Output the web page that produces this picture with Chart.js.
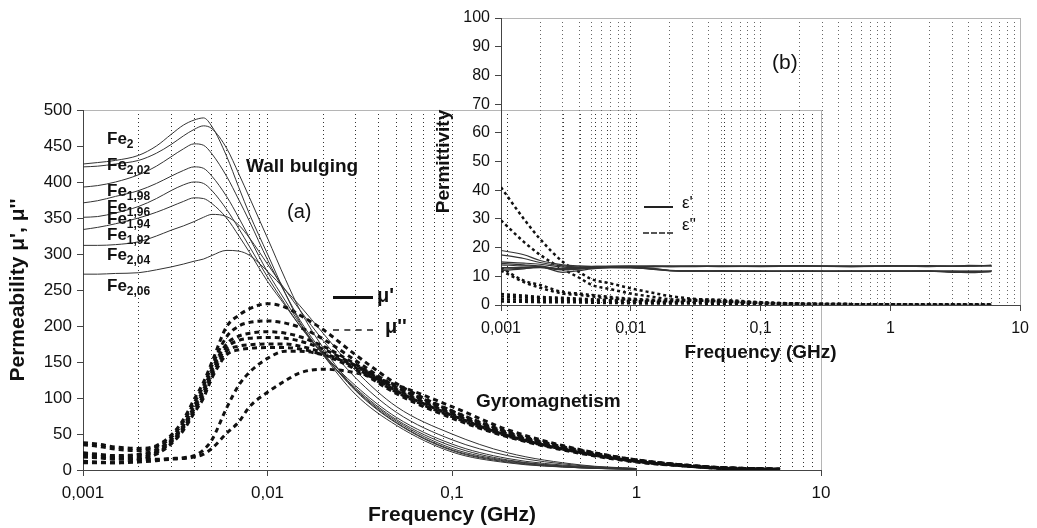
<!DOCTYPE html>
<html lang="en">
<head>
<meta charset="UTF-8">
<title>Permeability and permittivity spectra</title>
<script src="https://cdn.jsdelivr.net/npm/chart.js"></script>
<style>
  html, body { margin: 0; padding: 0; background: #fff; }
  #wrap { position: relative; width: 1037px; height: 528px; overflow: hidden;
          font-family: "Liberation Sans", Arial, sans-serif; color: #111; }
  #wrap canvas { position: absolute; left: 0; top: 0; }
  .note { position: absolute; line-height: 1; white-space: nowrap; }
  .bold { font-weight: bold; }
  .fe { font-weight: bold; font-size: 17px; }
  .fe sub { font-size: 12px; vertical-align: -4px; line-height: 1; }
  .key { position: absolute; height: 0; }
</style>
</head>
<body>
<div id="wrap">
  <canvas id="muChart" width="1037" height="528"></canvas>
  <canvas id="epsChart" width="1037" height="528"></canvas>

  <div class="note bold" style="left:246px;top:156px;font-size:19px">Wall bulging</div>
  <div class="note" style="left:287px;top:201px;font-size:20px">(a)</div>
  <div class="note bold" style="left:476px;top:391px;font-size:19px">Gyromagnetism</div>
  <div class="note" style="left:772px;top:51px;font-size:21px">(b)</div>

  <!-- legend of panel (a) -->
  <div class="key" style="left:333px;top:296px;width:40px;border-top:3px solid #111"></div>
  <div class="note bold" style="left:377px;top:285px;font-size:20px">μ'</div>
  <div class="key" style="left:333px;top:329px;width:40px;border-top:2px dashed #555"></div>
  <div class="note bold" style="left:385px;top:316px;font-size:20px">μ''</div>

  <!-- legend of panel (b) -->
  <div class="key" style="left:644px;top:206px;width:29px;border-top:2px solid #222"></div>
  <div class="note" style="left:682px;top:194px;font-size:17px">ε'</div>
  <div class="key" style="left:643px;top:232px;width:30px;border-top:2px dashed #555"></div>
  <div class="note" style="left:682px;top:216px;font-size:17px">ε''</div>
</div>

<script>
// ---- axis ticks ----
const decadeTicks = [0.001, 0.01, 0.1, 1, 10];
const decadeLabels = ['0,001', '0,01', '0,1', '1', '10'];

// ---- panel (a): permeability, GHz ----
const compositions = ['2', '2,02', '1,98', '1,96', '1,94', '1,92', '2,04', '2,06'];
const freqA = [0.001, 0.0012, 0.0015, 0.002, 0.0025, 0.003, 0.0035, 0.004, 0.0045, 0.005,
               0.006, 0.007, 0.008, 0.01, 0.0125, 0.015, 0.02, 0.03, 0.05, 0.1,
               0.2, 0.5, 1, 2, 3, 6];
// mu' (real part), one row per composition
const muPrime = [
  [425, 427, 430, 437, 450, 466, 479, 486, 489, 477, 436, 392, 355, 300, 245, 205, 160, 105, 62, 25, 10, 3, 1, null, null, null],
  [421, 422, 425, 430, 440, 452, 464, 473, 478, 474, 447, 411, 378, 322, 265, 222, 170, 112, 66, 28, 12, 3, 1, null, null, null],
  [393, 395, 400, 410, 422, 435, 446, 453, 451, 439, 408, 375, 345, 292, 245, 208, 163, 110, 65, 27, 11, 3, 1, null, null, null],
  [371, 374, 380, 388, 398, 408, 416, 421, 419, 408, 380, 350, 322, 275, 235, 203, 160, 112, 68, 30, 13, 4, 1, null, null, null],
  [351, 352, 357, 366, 377, 388, 396, 400, 398, 388, 362, 335, 310, 268, 230, 200, 160, 114, 70, 33, 14, 4, 1, null, null, null],
  [334, 337, 342, 350, 358, 366, 373, 378, 377, 370, 350, 325, 302, 262, 228, 200, 162, 117, 73, 36, 16, 5, 2, null, null, null],
  [312, 312, 313, 317, 325, 333, 339, 345, 351, 355, 352, 340, 322, 286, 250, 222, 180, 128, 80, 42, 20, 6, 2, null, null, null],
  [272, 272, 273, 274, 278, 282, 286, 290, 293, 298, 305, 304, 298, 276, 250, 228, 190, 138, 88, 50, 24, 7, 2, null, null, null]
];
// mu'' (imaginary part)
const muSecond = [
  [38, 36, 32, 30, 34, 48, 70, 98, 122, 150, 199, 215, 224, 231, 226, 215, 195, 160, 120, 82, 52, 27, 14, 6, 3, 1],
  [35, 33, 29, 27, 32, 45, 67, 93, 117, 145, 185, 200, 205, 207, 204, 198, 182, 152, 115, 80, 50, 26, 13, 6, 3, 1],
  [24, 22, 20, 22, 28, 42, 62, 88, 112, 140, 175, 186, 190, 192, 190, 185, 172, 147, 112, 78, 50, 25, 12, 5, 3, 1],
  [22, 20, 18, 20, 26, 40, 60, 85, 108, 136, 170, 180, 183, 184, 183, 179, 168, 145, 110, 76, 48, 24, 12, 5, 2, 1],
  [18, 17, 15, 17, 24, 38, 58, 82, 104, 132, 165, 172, 174, 175, 175, 172, 163, 142, 108, 74, 47, 24, 12, 5, 2, 1],
  [12, 11, 10, 14, 22, 36, 55, 79, 100, 128, 160, 167, 169, 170, 170, 168, 160, 140, 106, 72, 46, 23, 11, 5, 2, 1],
  [20, 18, 16, 15, 15, 16, 17, 20, 28, 42, 86, 118, 136, 155, 165, 165, 160, 145, 115, 82, 53, 27, 13, 5, 3, 1],
  [10, 10, 10, 11, 13, 15, 16, 18, 22, 30, 51, 67, 88, 108, 124, 135, 140, 135, 118, 88, 56, 28, 14, 6, 3, 1]
];

// ---- panel (b): permittivity ----
const freqB = [0.001, 0.0015, 0.002, 0.003, 0.004, 0.005, 0.007, 0.01, 0.015, 0.02,
               0.03, 0.05, 0.1, 0.2, 0.5, 1, 2, 3, 4, 6];
const epsPrime = [
  [19, 17.5, 15.5, 14, 13.6, 13.5, 13.5, 13.6, 13.5, 13.6, 13.5, 13.6, 13.5, 13.7, 13.5, 13.7, 13.4, 13.6, 13.5, 13.9],
  [17.5, 16.2, 14.8, 13.6, 13.3, 13.4, 13.5, 13.5, 13.6, 13.5, 13.6, 13.5, 13.6, 13.5, 13.6, 13.5, 13.7, 13.5, 13.8, 13.7],
  [15, 14.6, 14.2, 13.2, 13, 13.2, 13.5, 13.4, 13.3, 13.4, 13.4, 13.5, 13.4, 13.5, 13.4, 13.6, 13.5, 13.5, 13.6, 13.6],
  [14.5, 14, 13.6, 12.4, 12.6, 12.9, 13.1, 13, 12.5, 12.1, 11.9, 11.9, 11.8, 11.9, 11.8, 11.8, 11.8, 11.5, 11.3, 11.6],
  [14, 13.6, 13.4, 11.4, 12, 12.6, 13, 13, 12.6, 12, 11.8, 11.8, 11.7, 11.8, 11.7, 11.8, 11.8, 11.4, 11.4, 11.7],
  [13, 13.1, 13.1, 12.6, 12.8, 13, 13.2, 13.2, 12.8, 12, 11.8, 11.9, 11.8, 11.7, 11.8, 11.8, 11.8, 11.8, 11.7, 11.8],
  [12.5, 12.8, 13, 12.2, 12.5, 12.8, 13, 13, 12.4, 12, 11.9, 11.8, 11.8, 11.8, 11.8, 11.8, 11.9, 11.8, 11.8, 11.8],
  [12, 12.6, 13.3, 12.6, 12.8, 13, 13.3, 13.2, 13.5, 13.4, 13.5, 13.4, 13.5, 13.6, 13.4, 13.5, 13.6, 13.5, 13.6, 13.7]
];
const epsSecond = [
  [41, 30, 23, 15, 11.5, 9, 7.5, 5.8, 4.2, 3.1, 2.2, 1.5, 0.8, 0.5, 0.3, 0.2, 0.2, 0.1, 0.1, 0.1],
  [29.5, 22, 17.5, 12.5, 9.5, 7, 5.5, 4, 2.8, 2, 1.7, 1.2, 0.7, 0.4, 0.3, 0.2, 0.1, 0.1, 0.1, 0.1],
  [13, 8.5, 7, 4.5, 4, 3.5, 2.8, 2.2, 1.8, 1.5, 2, 1.8, 1, 0.5, 0.3, 0.2, 0.1, 0.1, 0.1, 0.1],
  [12, 8, 6, 4, 3.5, 3, 2.3, 1.8, 1.5, 1.3, 1.5, 1.4, 0.8, 0.4, 0.3, 0.2, 0.1, 0.1, 0.1, 0.1],
  [3.8, 3.3, 2.8, 2.5, 2.2, 2, 1.7, 1.4, 1.2, 1, 1.2, 1, 0.6, 0.3, 0.2, 0.1, 0.1, 0.1, 0.1, 0.1],
  [3, 2.6, 2.3, 2, 1.8, 1.6, 1.4, 1.2, 1, 0.9, 1, 0.8, 0.5, 0.3, 0.2, 0.1, 0.1, 0.1, 0.1, 0.1],
  [2, 1.8, 1.6, 1.5, 1.4, 1.3, 1.1, 1, 0.8, 0.7, 0.8, 0.6, 0.4, 0.2, 0.1, 0.1, 0.1, 0.1, 0.1, 0.1],
  [1.2, 1.1, 1, 1, 0.9, 0.8, 0.7, 0.6, 0.5, 0.5, 0.5, 0.4, 0.3, 0.2, 0.1, 0.1, 0.1, 0.1, 0.1, 0.1]
];

// Fe label tops (layout only), same order as compositions
const feLabelTops = [130, 156, 182, 198, 210, 226, 246, 277];

Chart.defaults.font.family = '"Liberation Sans", Arial, sans-serif';
Chart.defaults.color = '#111';

// log grid: 1..9 in each decade
const gridFreqs = [];
decadeTicks.forEach((d, i) => {
    if (i === decadeTicks.length - 1) { gridFreqs.push(d); return; }
    for (let k = 1; k < 10; k++) gridFreqs.push(+(d * k).toPrecision(6));
});

function toPoints(xs, ys) {
    return xs.map((x, i) => ({ x: x, y: ys[i] })).filter(p => p.y !== null);
}
function decadeLabel(v) {
    const i = decadeTicks.indexOf(v);
    return i >= 0 ? decadeLabels[i] : '';
}

// shared log axis builder
function freqAxis(opts) {
    return {
        type: 'logarithmic', min: 0.001, max: 10,
        afterBuildTicks: s => { s.ticks = gridFreqs.map(v => ({ value: v })); },
        afterFit: s => { s.height = opts.height; },
        ticks: { autoSkip: false, maxRotation: 0, font: { size: opts.tickSize }, padding: opts.tickPad,
                 callback: v => decadeLabel(v) },
        grid: {
            color: c => {
                const v = c.tick ? c.tick.value : null;
                if (v === 0.001) return 'transparent';
                if (v === 10) return '#b5b5b5';
                return opts.gridColor;
            },
            tickColor: c => (c.tick && decadeTicks.includes(c.tick.value)) ? '#444' : 'transparent',
            tickLength: 6
        },
        border: { color: '#444', width: 1,
                  dash: c => (!c.tick || c.tick.value === 10) ? [] : [1, 3] },
        title: { display: true, text: 'Frequency (GHz)', font: { size: opts.titleSize, weight: 'bold' },
                 padding: { top: 0, bottom: opts.titlePad } }
    };
}

function valueAxis(opts) {
    return {
        min: 0, max: opts.max,
        afterFit: s => { s.width = opts.width; },
        ticks: { stepSize: opts.step, font: { size: opts.tickSize }, padding: 5 },
        grid: { color: c => (c.tick && c.tick.value === opts.max) ? '#b5b5b5' : 'transparent',
                tickColor: '#444', tickLength: 6 },
        border: { color: '#444', width: 1 },
        title: { display: true, text: opts.title, font: { size: opts.titleSize, weight: 'bold' },
                 padding: { top: opts.titlePad, bottom: 0 } }
    };
}

const commonOpts = {
    responsive: false,
    animation: false,
    events: [],
    plugins: { legend: { display: false }, tooltip: { enabled: false } },
    elements: { point: { radius: 0 }, line: { cubicInterpolationMode: 'monotone' } }
};

// ---- panel (a) ----
const muSets = [];
compositions.forEach((c, i) => {
    muSets.push({ label: "μ' Fe" + c, data: toPoints(freqA, muPrime[i]),
                  borderColor: '#333', borderWidth: 1 });
    muSets.push({ label: "μ'' Fe" + c, data: toPoints(freqA, muSecond[i]),
                  borderColor: '#111', borderWidth: 3, borderDash: [5, 4] });
});

new Chart(document.getElementById('muChart'), {
    type: 'line',
    data: { datasets: muSets },
    options: Object.assign({}, commonOpts, {
        layout: { padding: { left: 0, right: 216, top: 110, bottom: 0 } },
        scales: {
            x: freqAxis({ height: 58, tickSize: 17, tickPad: 7, gridColor: '#333', titleSize: 21, titlePad: 0 }),
            y: valueAxis({ max: 500, step: 50, width: 83, tickSize: 17, title: "Permeability μ', μ''",
                           titleSize: 21, titlePad: 6 })
        }
    })
});

// ---- panel (b) ----
const epsSets = [];
epsPrime.forEach((row, i) => {
    epsSets.push({ label: "ε' " + (i + 1), data: toPoints(freqB, row),
                   borderColor: '#333', borderWidth: 1.2 });
});
epsSecond.forEach((row, i) => {
    epsSets.push({ label: "ε'' " + (i + 1), data: toPoints(freqB, row),
                   borderColor: '#111', borderWidth: 2.5, borderDash: [3, 3] });
});

new Chart(document.getElementById('epsChart'), {
    type: 'line',
    data: { datasets: epsSets },
    options: Object.assign({}, commonOpts, {
        layout: { padding: { left: 425, right: 10, top: 18, bottom: 163 } },
        scales: {
            x: freqAxis({ height: 60, tickSize: 16, tickPad: 8, gridColor: '#666', titleSize: 19, titlePad: 1 }),
            y: valueAxis({ max: 100, step: 10, width: 76, tickSize: 16, title: 'Permittivity',
                           titleSize: 19, titlePad: 7 })
        }
    })
});

// Fe composition labels
const wrap = document.getElementById('wrap');
compositions.forEach((c, i) => {
    const d = document.createElement('div');
    d.className = 'note fe';
    d.style.left = '107px';
    d.style.top = feLabelTops[i] + 'px';
    d.innerHTML = 'Fe<sub>' + c + '</sub>';
    wrap.appendChild(d);
});
</script>
</body>
</html>
